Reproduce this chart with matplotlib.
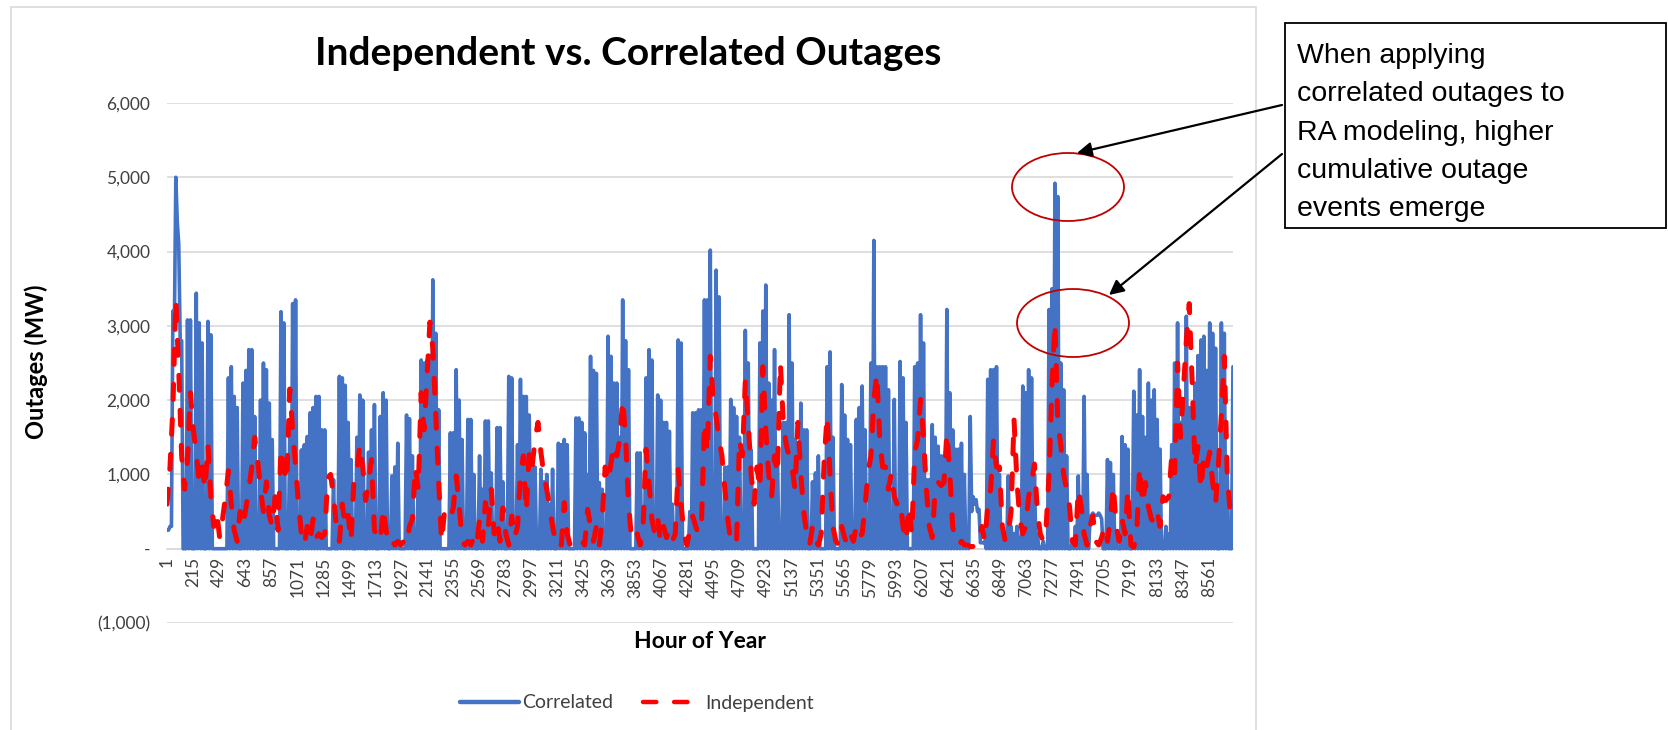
import numpy as np
import matplotlib
matplotlib.use("Agg")
import matplotlib.pyplot as plt
from matplotlib.patches import Rectangle, Ellipse, FancyArrowPatch
from matplotlib.ticker import FuncFormatter

plt.rcParams['font.family'] = ['Lato', 'DejaVu Sans']

# Hour of year sampled once a day (plus the last hour)
hours = np.append(np.arange(1, 8760, 24), 8760)

# Correlated outages (MW), daily peaks
correlated = [
    250, 300, 3200, 5000, 4100, 2800, 0, 3080, 3080, 0,
    3440, 3040, 2770, 0, 3060, 2880, 0, 0, 0, 0,
    0, 2300, 2450, 2050, 1900, 0, 2230, 2400, 2680, 2680,
    1780, 0, 2000, 2500, 2410, 1960, 1470, 0, 0, 3190,
    3040, 0, 1500, 3300, 3350, 0, 1330, 1400, 1510, 1830,
    1900, 2050, 2050, 1600, 1600, 0, 0, 930, 0, 2320,
    2300,
    2200, 1700, 1200, 0, 1500, 2070, 2000, 0, 1300,
    1600, 1940, 0, 1780, 2100, 2000, 0, 980, 1100, 1420,
    0, 0, 1800, 1750, 1250, 0, 1000, 2540, 2500, 2540,
    2600, 3620, 2900, 1870, 0, 0, 0, 1560, 1560, 2410,
    2000, 1470, 0, 1740, 1740, 1000, 0, 1250, 800, 1720,
    1720, 1020, 0, 1630, 1630, 900, 0, 2320, 2300, 0,
    1400, 2280, 2050,
    2050, 1800, 1250, 1100, 0, 1070, 900,
    1000, 600, 1070, 0, 1420, 1400, 1470, 1400, 0, 0,
    1760, 1760, 1700, 1560, 1000, 2590, 2400, 2360, 890, 800,
    0, 2860, 2590, 2230, 2230, 1500, 3350, 2800, 2410, 0,
    0, 1290, 1290, 0, 2300, 2680, 2540, 0, 2070, 2000,
    1700, 1700, 1580, 600, 0, 2810, 2770, 0, 0, 500,
    1830, 1830, 1870, 1870, 3350,
    3350, 4020, 0, 3750, 3390,
    0, 1100, 1100, 2010, 1900, 1780, 1500, 0, 2940, 2500,
    1330, 0, 0, 2770, 3200, 3550, 2230, 2000, 2680, 1250,
    80, 1700, 1700, 3150, 2500, 1470, 1200, 1960, 1600, 1600,
    0, 900, 1020, 1250, 0, 0, 2450, 2650, 1500, 0,
    0, 2210, 1800, 1470, 1400, 0, 1740, 1900, 2190, 1600,
    0, 2500, 4150, 2450, 2450, 2450,
    2450, 2140, 0, 2010,
    0, 2520, 2300, 1700, 0, 0, 2450, 2500, 3150, 2770,
    930, 930, 1670, 1500, 1380, 1250, 1250, 3220, 2100, 1600,
    1340, 1340, 1420, 1000, 80, 1780, 700, 660, 530, 80,
    100, 2280, 2410, 2410, 2450, 1000, 100, 200, 980, 300,
    200, 300, 150, 2190, 2100, 2410, 2300, 1000, 200, 0,
    100, 0, 3220, 3500, 4920, 4740, 2500, 2140,
    1250, 0,
    100, 300, 980, 620, 2050, 1000, 350, 480, 450, 480,
    400, 0, 1200, 1160, 1000, 100, 0, 1510, 1400, 1340,
    0, 2120, 1800, 2410, 1780, 1500, 2230, 2000, 2140, 1740,
    1340, 0, 300, 200, 1400, 2500, 3040, 1700, 1800, 3130,
    1900, 1900, 2230, 2600, 2810, 2860, 2400, 3040, 2900, 2700,
    0, 3040, 2900, 1020, 0, 2450,
]

# Correlated outages between the daily readings (the line keeps dropping to the axis)
correlated_dips = [
    250, 300, 3000, 4400, 2800, 0, 0, 0, 0, 0,
    0, 0, 0, 0, 0, 0, 0, 0, 0, 0,
    0, 0, 0, 0, 0, 0, 0, 0, 0, 0,
    0, 0, 0, 0, 0, 0, 0, 0, 0, 0,
    0, 0, 0, 0, 0, 0, 0, 0, 0, 0,
    0, 0, 0, 0, 0, 0, 0, 0, 0, 0,
    0, 0, 0, 0, 0, 0, 0, 0, 0, 0,
    0, 0, 0, 0, 0, 0, 0, 0, 0, 0,
    0, 0, 0, 0, 0, 0, 0, 0, 0, 0,
    0, 0, 0, 0, 0, 0, 0, 0, 0, 0,
    0, 0, 0, 0, 0, 0, 0, 0, 0, 0,
    0, 0, 0, 0, 0, 0, 0, 0, 0, 0,
    0, 0, 0, 0, 0, 0, 0, 0, 0, 0,
    0, 0, 0, 0, 0, 0, 0, 0, 0, 0,
    0, 0, 0, 0, 0, 0, 0, 0, 0, 0,
    0, 0, 0, 0, 0, 0, 0, 0, 0, 0,
    0, 0, 0, 0, 0, 0, 0, 0, 0, 0,
    0, 0, 0, 0, 0, 0, 0, 0, 0, 0,
    0, 0, 0, 0, 0, 0, 0, 0, 0, 0,
    0, 0, 0, 0, 0, 0, 0, 0, 0, 0,
    0, 0, 0, 0, 0, 0, 0, 0, 0, 0,
    0, 0, 0, 0, 0, 0, 0, 0, 0, 0,
    0, 0, 0, 0, 0, 0, 0, 0, 0, 0,
    0, 0, 0, 0, 0, 0, 0, 0, 0, 0,
    0, 0, 0, 0, 0, 0, 0, 0, 0, 0,
    0, 0, 0, 0, 0, 0, 0, 0, 0, 0,
    0, 0, 0, 0, 0, 0, 0, 0, 0, 0,
    0, 0, 0, 0, 0, 500, 600, 500, 80, 80,
    0, 0, 0, 0, 0, 0, 0, 0, 0, 0,
    0, 0, 0, 0, 0, 0, 0, 0, 0, 0,
    0, 0, 0, 0, 0, 0, 0, 0, 0, 0,
    0, 0, 0, 0, 0, 0, 450, 450, 450, 450,
    0, 0, 0, 0, 0, 0, 0, 0, 0, 0,
    0, 0, 0, 0, 0, 0, 0, 0, 0, 0,
    0, 0, 0, 0, 0, 0, 0, 0, 0, 0,
    0, 0, 0, 0, 0, 0, 0, 0, 0, 0,
    0, 0, 0, 0, 0,
]

# Independent outages (MW)
independent = [
    600, 1100, 1900, 3350, 2400, 1250, 800, 1200, 2100, 1600,
    1300, 900, 1100, 800, 1400, 700, 300, 500, 150, 400,
    700, 1050, 600, 250, 100, 500, 300, 550, 800, 1100,
    1500, 1200, 800, 500, 900, 450, 300, 700, 250, 1350,
    1100, 900, 2150, 1600, 1100, 600, 200, 50, 300, 100,
    400, 150, 200, 150, 200, 950, 1000, 700, 300, 100,
    600,
    300, 450, 100, 950, 1050, 1400, 1100, 650, 900,
    1200, 250, 150, 100, 550, 250, 50, 100, 50, 100,
    50, 100, 50, 300, 400, 1100, 800, 2100, 1600, 2300,
    3050, 2700, 1800, 900, 100, 500, 450, 400, 550, 980,
    600, 100, 50, 100, 50, 150, 50, 400, 100, 620,
    300, 800, 200, 400, 100, 550, 200, 50, 440, 150,
    300, 1000, 1250,
    500, 1300, 1100, 1470, 1700, 1300, 1000,
    800, 570, 300, 100, 150, 50, 620, 200, 50, 100,
    50, 50, 100, 50, 530, 300, 100, 300, 50, 400,
    1100, 900, 1150, 1400, 1250, 1470, 2010, 1500, 600, 150,
    100, 200, 50, 300, 1340, 900, 400, 200, 400, 100,
    300, 150, 250, 100, 200, 1070, 600, 200, 50, 250,
    440, 300, 200, 350, 1700,
    1300, 2590, 2000, 1780, 1470,
    1250, 800, 400, 100, 50, 100, 1470, 1250, 2270, 1700,
    1000, 600, 1100, 800, 2450, 1600, 1000, 700, 1250, 1000,
    2500, 1700, 1400, 1250, 1100, 800, 1700, 1000, 500, 200,
    50, 300, 100, 50, 200, 1200, 1790, 1000, 300, 100,
    50, 300, 150, 50, 200, 100, 300, 150, 200, 570,
    1020, 1250, 2000, 2360, 1500, 1100,
    1100, 800, 1020, 700,
    600, 650, 300, 100, 570, 200, 1300, 1470, 2010, 1500,
    800, 300, 150, 800, 900, 850, 890, 1560, 1020, 300,
    100, 50, 100, 50, 50, 30, 30, 30, 100, 300,
    100, 570, 800, 1470, 1100, 1100, 300, 100, 200, 500,
    1740, 900, 400, 200, 300, 700, 900, 1140, 500, 200,
    100, 300, 1000, 2200, 3040, 1700, 1400, 1000,
    800, 570,
    100, 50, 800, 570, 200, 50, 300, 440, 100, 50,
    150, 300, 100, 400, 850, 300, 100, 400, 200, 800,
    50, 20, 200, 1100, 600, 890, 570, 400, 350, 500,
    300, 700, 650, 700, 1250, 1020, 2500, 1500, 2140, 2800,
    3300, 2230, 1100, 1380, 800, 1250, 1100, 1300, 900, 600,
    1150, 1800, 2590, 1000, 500, 440,
]

tick_hours = list(range(1, 8760, 214))
y_ticks = [-1000, 0, 1000, 2000, 3000, 4000, 5000, 6000]

note = ["When applying", "correlated outages to", "RA modeling, higher",
        "cumulative outage", "events emerge"]

# put the readings and the dips between them in hour order
corr_x = np.empty(2 * len(hours) - 1)
corr_x[0::2] = hours
corr_x[1::2] = (hours[:-1] + hours[1:]) / 2
corr_y = np.empty(2 * len(hours) - 1)
corr_y[0::2] = correlated
corr_y[1::2] = correlated_dips

W, H = 1668, 730
fig = plt.figure(figsize=(W / 100, H / 100), dpi=100)
ax = fig.add_axes([167 / W, 1 - 623 / H, (1233 - 167) / W, (623 - 103) / H])

# axis at zero first (moving the spine resets the ticks)
for s in ['top', 'right', 'left']:
    ax.spines[s].set_visible(False)
ax.spines['bottom'].set_position(('data', 0))
ax.spines['bottom'].set_color('#D9D9D9')
ax.spines['bottom'].set_linewidth(1.2)

ax.plot(corr_x, corr_y, color='#4472C4', lw=2.6, solid_joinstyle='round',
        solid_capstyle='round', label='Correlated', zorder=3)
ax.plot(hours, independent, color='#FF0000', lw=3.6, dashes=(3, 4),
        dash_capstyle='round', dash_joinstyle='round', label='Independent', zorder=4)

ax.set_xlim(0.5, 8760.5)
ax.set_ylim(-1000, 6000)
ax.set_yticks(y_ticks)


def acct(v, pos):
    if v == 0:
        return '-'
    if v < 0:
        return '({:,.0f})'.format(-v)
    return '{:,.0f}'.format(v)


ax.yaxis.set_major_formatter(FuncFormatter(acct))
ax.set_xticks(tick_hours)
ax.set_xticklabels([str(t) for t in tick_hours])
ax.tick_params(axis='x', length=0, pad=6, labelsize=12.5, labelcolor='#404040',
               labelrotation=90)
ax.tick_params(axis='y', length=0, pad=12, labelsize=12.5, labelcolor='#404040')

ax.grid(axis='y', color='#D9D9D9', lw=1.2, zorder=0)
ax.set_axisbelow(True)

# titles
fig.text(628 / W, 1 - 65 / H, 'Independent vs. Correlated Outages', ha='center',
         va='baseline', fontsize=28, fontweight='bold')
fig.text(36 / W, 1 - 362 / H, 'Outages (MW)', rotation=90, ha='center', va='center',
         fontsize=17, fontweight='bold')
fig.text(700 / W, 1 - 642 / H, 'Hour of Year', ha='center', va='center',
         fontsize=16.5, fontweight='bold')

leg = fig.legend(loc='center', bbox_to_anchor=(637 / W, 1 - 703 / H), ncol=2,
                 frameon=False, fontsize=14, handlelength=3.0, handletextpad=0.2,
                 columnspacing=1.5, labelcolor='#404040')
for h in leg.get_lines():
    h.set_linewidth(3.2)

# chart frame
fig.add_artist(Rectangle((11 / W, -0.01), (1256 - 11) / W, 1 - 7 / H + 0.01,
                         transform=fig.transFigure, fill=False, ec='#D9D9D9', lw=1.2))

# callout box
fig.add_artist(Rectangle((1285 / W, 1 - 228 / H), (1666 - 1285) / W, 205 / H,
                         transform=fig.transFigure, fill=False, ec='black', lw=1.3))
for i, line in enumerate(note):
    fig.text(1297 / W, 1 - (63 + 38.3 * i) / H, line, ha='left', va='baseline',
             fontsize=20.5, family=['Liberation Sans', 'DejaVu Sans'])

# highlight circles
for cx, cy in [(1068, 187), (1073, 323)]:
    fig.add_artist(Ellipse((cx / W, 1 - cy / H), 112 / W, 68 / H, transform=fig.transFigure,
                           fill=False, ec='#C00000', lw=1.3))

for (x0, y0), (x1, y1) in [((1282, 105), (1077, 153)), ((1282, 154), (1109, 295))]:
    fig.add_artist(FancyArrowPatch((x0 / W, 1 - y0 / H), (x1 / W, 1 - y1 / H),
                                   transform=fig.transFigure, arrowstyle='-|>',
                                   mutation_scale=22, color='black', lw=1.6,
                                   shrinkA=0, shrinkB=0))

fig.savefig('out.png', dpi=100)
